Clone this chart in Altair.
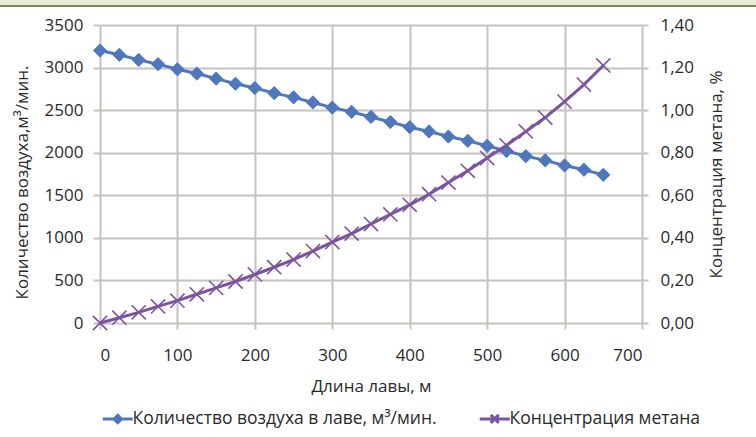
import altair as alt
import pandas as pd

# ---- data ----
lengths = [0, 25, 50, 75, 100, 125, 150, 175, 200, 225, 250, 275, 300, 325,
           350, 375, 400, 425, 450, 475, 500, 525, 550, 575, 600, 625, 650]
air = [3200, 3150, 3090, 3040, 2980, 2930, 2870, 2810, 2760, 2700, 2650, 2590,
       2530, 2480, 2420, 2360, 2300, 2250, 2190, 2140, 2080, 2020, 1960, 1910,
       1850, 1800, 1740]
methane = [0.00, 0.025, 0.05, 0.078, 0.105, 0.135, 0.165, 0.195, 0.228, 0.262,
           0.298, 0.338, 0.38, 0.42, 0.465, 0.51, 0.555, 0.605, 0.66, 0.715,
           0.775, 0.835, 0.90, 0.965, 1.04, 1.12, 1.21]

x_ticks = [0, 100, 200, 300, 400, 500, 600, 700]
left_ticks = [0, 500, 1000, 1500, 2000, 2500, 3000, 3500]
right_ticks = [0.0, 0.2, 0.4, 0.6, 0.8, 1.0, 1.2, 1.4]

series_names = ["Количество воздуха в лаве, м³/мин.", "Концентрация метана"]
x_title = "Длина лавы, м"
left_title = "Количество воздуха,м³/мин."
right_title = "Концентрация метана, %"

BLUE = "#4f77be"
PURPLE = "#7b549f"
GRID = "#c6c2bd"
TEXT = "#2a2a2a"
FONT = "Open Sans"

df = pd.DataFrame({"x": lengths, "air": air, "ch4": methane})

base = alt.Chart(df)

x_enc = alt.X(
    "x:Q",
    scale=alt.Scale(domain=[0, 700], nice=False),
    axis=alt.Axis(values=x_ticks, title=x_title, grid=True, gridColor=GRID,
                  gridWidth=2, domain=False, tickColor=GRID, tickWidth=2,
                  tickSize=6, labelPadding=18, titlePadding=15, format="d"),
)

y_left = alt.Y(
    "air:Q",
    scale=alt.Scale(domain=[0, 3500], nice=False),
    axis=alt.Axis(orient="left", values=left_ticks, title=left_title, grid=True,
                  gridColor=GRID, gridWidth=2, domain=False, tickColor=GRID,
                  tickWidth=2, tickSize=7, labelPadding=10, titlePadding=13,
                  titleY=157, format="d"),
)

y_right = alt.Y(
    "ch4:Q",
    scale=alt.Scale(domain=[0, 1.4], nice=False),
    axis=alt.Axis(orient="right", values=right_ticks, title=right_title,
                  grid=False, domain=False, tickColor=GRID, tickWidth=2,
                  tickSize=6, labelPadding=12, titlePadding=32, titleAngle=270,
                  labelExpr="replace(format(datum.value, '.2f'), '.', ',')"),
)

air_line = base.mark_line(color=BLUE, strokeWidth=3).encode(x=x_enc, y=y_left)
air_pts = base.mark_point(shape="diamond", filled=True, size=175, color=BLUE,
                          opacity=1, stroke=BLUE, strokeWidth=1).encode(x=x_enc, y=y_left)
left_layer = alt.layer(air_line, air_pts)

ch4_line = base.mark_line(color=PURPLE, strokeWidth=3).encode(x=x_enc, y=y_right)
ch4_pts = base.mark_point(shape="M-1,-1L1,1M-1,1L1,-1", filled=False, size=200,
                          color=PURPLE, opacity=1, strokeWidth=1.6).encode(x=x_enc, y=y_right)
right_layer = alt.layer(ch4_line, ch4_pts)

# legend-only layer (no marks drawn, legend from scale domains)
legend_paths = [
    "M-3,0H3M0,-0.75L0.75,0L0,0.75L-0.75,0Z",
    "M-3,0H3M-0.8,-0.8L0.8,0.8M-0.8,0.8L0.8,-0.8",
]
legend_layer = (
    base.transform_filter("false")
    .transform_calculate(s="'a'")
    .mark_point(filled=True, opacity=1, strokeWidth=3)
    .encode(
        color=alt.Color("s:N", scale=alt.Scale(domain=series_names, range=[BLUE, PURPLE]),
                        legend=alt.Legend(orient="none", direction="horizontal",
                                          columns=2, legendX=9, legendY=385,
                                          title=None, symbolSize=100,
                                          symbolStrokeWidth=3, labelFontSize=17.5,
                                          labelOffset=6, columnPadding=36,
                                          labelLimit=1000,
                                          labelColor=TEXT, labelFont=FONT,
                                          symbolOpacity=1)),
        stroke=alt.Stroke("s:N", scale=alt.Scale(domain=series_names, range=[BLUE, PURPLE]),
                          title=None),
        shape=alt.Shape("s:N", scale=alt.Scale(domain=series_names, range=legend_paths),
                        title=None),
    )
)

# top decorative band of the source figure
band_data = alt.Data(values=[{"k": 1}])
band = alt.Chart(band_data).mark_rect(color="#e9e9dc").encode(
    x=alt.value(-100), x2=alt.value(656), y=alt.value(-25), y2=alt.value(-20))
band_line = alt.Chart(band_data).mark_rule(color="#7c8c3e", strokeWidth=2).encode(
    x=alt.value(-100), x2=alt.value(656), y=alt.value(-19))

chart = (
    alt.layer(band, band_line, left_layer, right_layer, legend_layer)
    .resolve_scale(y="independent")
    .properties(
        width=542,
        height=298,
        autosize=alt.AutoSizeParams(type="none"),
        padding={"left": 100, "top": 25, "right": 114, "bottom": 114},
        background="white",
    )
    .configure_view(stroke=None)
    .configure_axis(labelFont=FONT, titleFont=FONT, labelFontSize=17,
                    titleFontSize=17, labelColor=TEXT, titleColor=TEXT,
                    titleFontWeight="normal")
)

chart.save("out.html", embed_options={"renderer": "svg", "actions": False})
